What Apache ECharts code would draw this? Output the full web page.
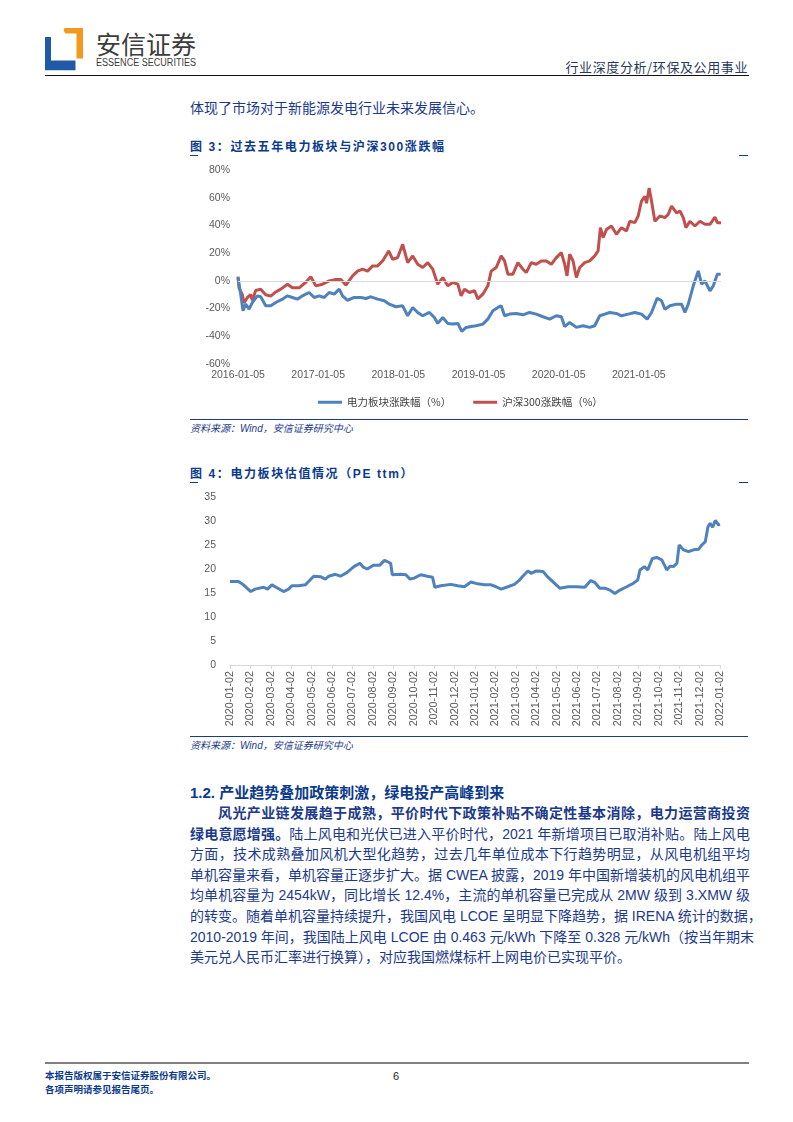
<!DOCTYPE html>
<html><head><meta charset="utf-8">
<script src="https://cdn.jsdelivr.net/npm/echarts@6/dist/echarts.min.js"></script>
<style>
body{margin:0;width:793px;height:1122px;position:relative;background:#fff;font-family:"Liberation Sans","Noto Sans CJK SC",sans-serif;overflow:hidden}
.a{position:absolute;white-space:nowrap}
.navy{color:#1d3a8a}
.ttl{font-weight:bold;font-size:12px;letter-spacing:1.6px;color:#0b3a8c}
.dash{position:absolute;height:1px;background:#1d3a8a}
.src{font-style:italic;font-size:10px;color:#1d3a8a}
.pl{position:absolute;left:190px;width:560px;font-size:14px;color:#1d3a8a;text-align:justify;text-align-last:justify;white-space:nowrap;height:22px;line-height:22px}
</style></head><body>

<!-- header -->
<svg class="a" style="left:44.5px;top:27.7px" width="38" height="43" viewBox="0 0 38 43">
  <polygon points="0,9 6,9 6,32.5 30.5,32.5 30.5,42.3 0,42.3" fill="#1f5aa6"/>
  <polygon points="19.5,0 38,0 38,30.6 31.5,30.6 31.5,5.6 20.5,5.6 18.5,2.5" fill="#f39a1e"/>
</svg>
<div class="a" style="left:96px;top:25px;font-size:25px;color:#3c3c3c;font-family:'Noto Sans CJK SC'">安信证券</div>
<div class="a" style="left:96px;top:57px;font-size:10px;color:#3c3c3c;font-family:'Liberation Sans'"><span id="ess" style="display:inline-block;transform-origin:0 50%">ESSENCE SECURITIES</span></div>
<div class="a" style="right:45px;top:57px;font-size:13px;color:#2b3a5e;font-family:'Noto Sans CJK SC';letter-spacing:0.6px">行业深度分析/环保及公用事业</div>
<div class="a" style="left:44.5px;top:74.5px;width:704px;height:1.6px;background:#111"></div>

<div class="a navy" style="left:190px;top:97px;font-size:14px">体现了市场对于新能源发电行业未来发展信心。</div>

<!-- figure 3 -->
<div class="a ttl" style="left:190px;top:137px">图 3：过去五年电力板块与沪深300涨跌幅</div>
<div class="dash" style="left:190px;top:155px;width:8px"></div>
<div class="dash" style="left:739px;top:155px;width:9px"></div>
<div id="c1" class="a" style="left:0;top:150px;width:793px;height:265px"></div>
<div class="a" style="left:190px;top:419px;width:558px;height:1px;background:#1d3a8a"></div>
<div class="a src" style="left:190px;top:420px">资料来源：Wind，安信证券研究中心</div>

<!-- figure 4 -->
<div class="a ttl" style="left:190px;top:464px">图 4：电力板块估值情况（PE ttm）</div>
<div class="dash" style="left:190px;top:482px;width:8px"></div>
<div class="dash" style="left:739px;top:482px;width:9px"></div>
<div id="c2" class="a" style="left:0;top:485px;width:793px;height:250px"></div>
<div class="a" style="left:190px;top:736px;width:558px;height:1px;background:#1d3a8a"></div>
<div class="a src" style="left:190px;top:737px">资料来源：Wind，安信证券研究中心</div>

<!-- section -->
<div class="a" style="left:190px;top:781px;font-size:15px;font-weight:bold;color:#0b3a8c">1.2. 产业趋势叠加政策刺激，绿电投产高峰到来</div>
<div class="pl" style="top:802px;font-weight:bold;padding-left:28px;width:532px">风光产业链发展趋于成熟，平价时代下政策补贴不确定性基本消除，电力运营商投资</div>
<div class="pl" style="top:822.6px"><b>绿电意愿增强。</b>陆上风电和光伏已进入平价时代，2021 年新增项目已取消补贴。陆上风电</div>
<div class="pl" style="top:843.2px">方面，技术成熟叠加风机大型化趋势，过去几年单位成本下行趋势明显，从风电机组平均</div>
<div class="pl" style="top:863.8px">单机容量来看，单机容量正逐步扩大。据 CWEA 披露，2019 年中国新增装机的风电机组平</div>
<div class="pl" style="top:884.4px">均单机容量为 2454kW，同比增长 12.4%，主流的单机容量已完成从 2MW 级到 3.XMW 级</div>
<div class="pl" style="top:905px">的转变。随着单机容量持续提升，我国风电 LCOE 呈明显下降趋势，据 IRENA 统计的数据，</div>
<div class="pl" style="top:925.6px">2010-2019 年间，我国陆上风电 LCOE 由 0.463 元/kWh 下降至 0.328 元/kWh（按当年期末</div>
<div class="pl" style="top:946.2px;text-align:left;text-align-last:left">美元兑人民币汇率进行换算），对应我国燃煤标杆上网电价已实现平价。</div>

<!-- footer -->
<div class="a" style="left:44.5px;top:1062px;width:704px;height:2px;background:#808080"></div>
<div class="a" style="left:45px;top:1068px;font-size:9.5px;font-weight:bold;color:#0b3a8c">本报告版权属于安信证券股份有限公司。</div>
<div class="a" style="left:45px;top:1082px;font-size:9.5px;font-weight:bold;color:#0b3a8c">各项声明请参见报告尾页。</div>
<div class="a" style="left:393px;top:1070px;font-size:11px;color:#222">6</div>

<script>
// fit the logo's English line to the width of the Chinese name
(function(){const s=document.getElementById('ess');const w=s.getBoundingClientRect().width;s.style.transform='scaleX('+(100/w)+')';})();

// ---------- Figure 3 data (x = months since 2016-01-05) ----------
const fig3XLabels = ['2016-01-05','2017-01-05','2018-01-05','2019-01-05','2020-01-05','2021-01-05'];
const powerMonths = [0,0.4,0.75,1.15,1.65,2.15,2.9,3.4,4.15,4.9,5.65,6.65,7.4,8.15,8.9,9.65,10.65,11.4,12.15,12.9,13.65,14.4,15.15,15.65,16.4,17.4,18.4,19.15,19.9,20.9,21.9,22.65,23.65,24.65,25.4,26.15,26.9,27.65,28.65,29.4,29.9,30.65,31.4,32.15,32.9,33.5,34.15,34.9,35.65,36.65,37.4,38.15,38.9,39.4,39.9,40.65,41.65,42.65,43.65,44.65,45.65,46.65,47.65,48.4,48.9,49.65,50.65,51.65,52.65,53.4,54.15,54.9,55.65,56.65,57.4,58.4,59.4,60.4,61.25,61.9,62.75,63.4,63.9,64.65,65.65,66.4,66.9,67.4,68.15,68.9,69.4,69.9,70.65,71.15,71.75,72.25];
const powerValues = [2.4,-9.6,-21.6,-16.8,-20.4,-15.6,-10.8,-11.5,-18,-18,-15.6,-13.2,-10.8,-12,-13.2,-10.8,-8.4,-12,-10.8,-12,-8.4,-9.6,-6,-10.8,-14,-12,-12,-12.7,-11.5,-13.2,-14.4,-16.8,-18.7,-18,-25.2,-19.2,-22.8,-25.2,-22.8,-26.4,-30.7,-26.4,-30.7,-31.2,-30.7,-36.5,-33.6,-32.9,-32.4,-31.2,-27.6,-21.6,-19.2,-18,-25.2,-24,-23.5,-24.5,-22.8,-24,-25.9,-27.6,-25.2,-25.9,-33,-30,-33.6,-32.4,-33.6,-32.4,-25.2,-24,-22.8,-23.5,-25.2,-24,-22.8,-24,-27.6,-22.8,-12.5,-14.4,-20.4,-18,-16.8,-16.8,-22.8,-16.8,-3.6,7.2,-2.4,0,-7.2,-3.6,4.8,4.8];
const hs300Months = [0,0.15,0.65,0.9,1.4,1.9,2.15,2.65,3.4,4.15,4.9,5.65,6.4,7.4,8.15,9.15,10.15,10.9,11.65,12.65,13.65,14.65,15.4,16.15,17.15,17.9,18.65,19.4,20.15,20.9,21.65,22.55,23.15,23.9,24.65,25.4,26.15,26.9,27.65,28.4,29.15,29.9,30.65,31.4,32.15,32.9,33.4,33.9,34.65,35.4,35.9,36.65,37.4,37.9,38.65,39.4,39.9,40.4,41.15,41.9,42.65,43.15,43.9,44.65,45.4,46.15,46.9,47.65,48.4,48.9,49.25,49.65,50.15,50.65,51.15,51.9,52.65,53.4,53.9,54.25,54.65,55.15,55.9,56.65,57.4,58.15,58.65,59.4,59.9,60.4,60.9,61.15,61.55,61.9,62.4,63.15,63.9,64.4,64.9,65.65,66.15,66.65,67.05,67.65,68.4,69.15,69.9,70.65,71.4,71.75,72.3];
const hs300Values = [3,-5,-10,-16,-12,-10,-14,-7,-6,-10,-11,-8,-6,-2.4,-5,-5,-1,3,-3.6,-2.4,0,1,1,-3,3.6,7,8.4,7,10.8,10.8,14.4,21.6,15.6,16.8,26.4,13.2,18,12,9.6,13.2,8.4,-2.4,2.4,-3.6,-1.2,-2.4,-10.8,-6,-8.4,-7,-13,-9.6,-3.6,7,9.6,18,14.4,4.8,4.8,13.2,8.4,6,13.2,12,14.4,14.4,12,16.8,20.4,12,3.6,19.2,14.4,2.4,9.6,13.2,14.4,18,21.6,38.4,31.2,37,39.6,33.6,38.4,36,43,42,46.8,57.6,61,56,67,57.6,43,46.8,45.6,48,54,49,50.4,45.6,38.4,43,39.6,43,40.8,40.8,46,42,42];

// ---------- Figure 4 data (x = months since 2020-01-02) ----------
const fig4XLabels = ['2020-01-02','2020-02-02','2020-03-02','2020-04-02','2020-05-02','2020-06-02','2020-07-02','2020-08-02','2020-09-02','2020-10-02','2020-11-02','2020-12-02','2021-01-02','2021-02-02','2021-03-02','2021-04-02','2021-05-02','2021-06-02','2021-07-02','2021-08-02','2021-09-02','2021-10-02','2021-11-02','2021-12-02','2022-01-02'];
const peMonths = [0,0.41,0.66,1.02,1.23,1.64,1.84,2.05,2.3,2.62,2.87,3.03,3.36,3.69,3.85,4.1,4.43,4.67,4.84,5.16,5.41,5.74,6.07,6.36,6.52,6.72,7.02,7.34,7.57,7.87,7.95,8.36,8.61,8.82,9.02,9.34,9.67,9.92,10.03,10.33,10.82,11.15,11.48,11.8,12.05,12.46,12.79,13.03,13.28,13.61,13.93,14.18,14.34,14.59,14.75,15.0,15.33,15.57,15.9,16.15,16.56,16.97,17.38,17.67,17.87,18.11,18.36,18.61,18.85,19.1,19.43,19.75,19.97,20.08,20.3,20.46,20.69,20.9,21.15,21.28,21.39,21.56,21.72,21.89,22.0,22.21,22.46,22.7,22.95,23.11,23.28,23.41,23.52,23.64,23.77,23.93,24.0];
const peValues = [17.4,17.4,16.7,15.3,15.8,16.2,15.8,16.7,16.1,15.3,15.8,16.5,16.5,16.7,17.4,18.5,18.4,17.9,18.5,18.9,18.5,19.3,20.5,21.2,20.4,20.0,20.8,20.8,21.8,21.2,18.8,18.9,18.8,17.9,18.1,18.8,18.5,18.3,16.2,16.5,16.8,16.5,16.3,17.3,17.0,16.7,16.7,16.3,15.8,16.3,16.8,17.7,18.5,19.6,19.1,19.6,19.5,18.3,17.0,16.0,16.3,16.3,16.2,17.6,17.2,16.0,16.0,15.6,14.9,15.6,16.3,17.0,17.7,19.8,20.5,19.8,22.2,22.4,21.9,20.8,19.8,20.6,20.5,21.2,25.0,24.0,23.6,24.0,24.1,25.0,25.7,28.8,29.5,28.7,30.1,29.2,29.3];

const axisText = {color:'#595959', fontSize:10.5, fontFamily:'Liberation Sans'};
const blue = '#4f81bd', red = '#c0504d';
const pairs = (xs, ys) => xs.map((x, i) => [x, ys[i]]);

const c1 = echarts.init(document.getElementById('c1'), null, {renderer:'canvas'});
c1.setOption({
  animation:false,
  grid:{left:238, right:72, top:20, height:194},
  legend:{
    left:313, top:242, itemWidth:24, itemHeight:3, itemGap:22, icon:'rect',
    textStyle:{color:'#404040', fontSize:10.5, fontFamily:'Noto Sans CJK SC'},
    data:['电力板块涨跌幅（%）','沪深300涨跌幅（%）']
  },
  xAxis:{type:'value', min:0, max:72.3, interval:12,
    axisLine:{show:false}, axisTick:{show:false}, splitLine:{show:false},
    axisLabel:{...axisText, margin:6, showMaxLabel:false,
      formatter:v => (Number.isInteger(v) && v % 12 === 0 && fig3XLabels[v/12]) ? fig3XLabels[v/12] : ''}},
  yAxis:{type:'value', min:-60, max:80, interval:20,
    axisLine:{show:false}, axisTick:{show:false}, splitLine:{show:false},
    axisLabel:{...axisText, margin:8, formatter:'{value}%'}},
  series:[
    {type:'line', name:'zero', z:1, data:[], silent:true,
      markLine:{silent:true, symbol:['none','none'], label:{show:false},
        lineStyle:{color:'#d9d9d9', width:1, type:'solid'}, data:[{yAxis:0}]}},
    {type:'line', name:'电力板块涨跌幅（%）', z:3, showSymbol:false, data:pairs(powerMonths, powerValues),
      lineStyle:{color:blue, width:3}, itemStyle:{color:blue}},
    {type:'line', name:'沪深300涨跌幅（%）', z:2, showSymbol:false, data:pairs(hs300Months, hs300Values),
      lineStyle:{color:red, width:3}, itemStyle:{color:red}}
  ]
});

const c2 = echarts.init(document.getElementById('c2'), null, {renderer:'canvas'});
c2.setOption({
  animation:false,
  grid:{left:230, right:73, top:12, height:168},
  xAxis:{type:'value', min:0, max:24, interval:1,
    axisLine:{show:true, lineStyle:{color:'#d9d9d9', width:1}},
    axisTick:{show:true, length:4, lineStyle:{color:'#d9d9d9'}},
    splitLine:{show:false},
    axisLabel:{...axisText, fontSize:10.8, rotate:90, margin:6, formatter:v => fig4XLabels[v] || ''}},
  yAxis:{type:'value', min:0, max:35, interval:5,
    axisLine:{show:false}, axisTick:{show:false}, splitLine:{show:false},
    axisLabel:{...axisText, margin:14}},
  series:[
    {type:'line', showSymbol:false, data:pairs(peMonths, peValues),
      lineStyle:{color:blue, width:3}, itemStyle:{color:blue}}
  ]
});
</script>
</body></html>
